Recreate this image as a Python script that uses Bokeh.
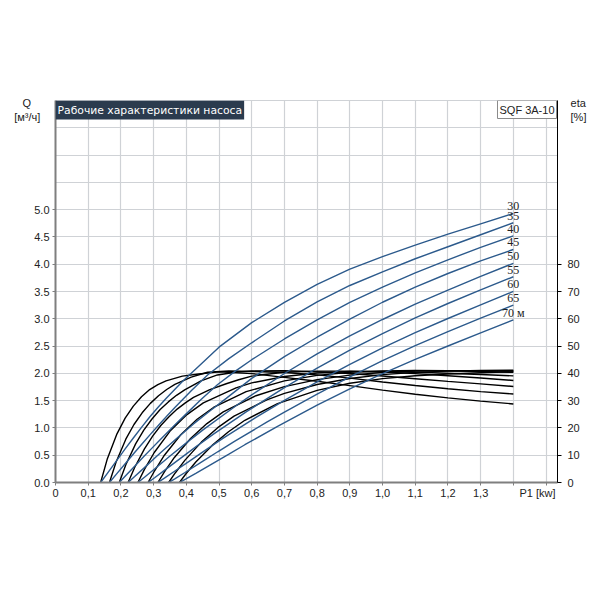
from bokeh.plotting import figure
from bokeh.models import (Range1d, LinearAxis, FixedTicker, Label, LabelSet,
                          ColumnDataSource, CustomJSTickFormatter)
from bokeh.embed import file_html
from bokeh.resources import INLINE

# ---------------- data ----------------
heads = ["30", "35", "40", "45", "50", "55", "60", "65", "70 м"]

p30 = [0.138, 0.158, 0.188, 0.213, 0.238, 0.263, 0.288, 0.313, 0.338, 0.388, 0.438, 0.5, 0.6, 0.7, 0.8, 0.9, 1.0, 1.1, 1.2, 1.3, 1.4]
q30 = [0, 0.164, 0.41, 0.615, 0.815, 1.01, 1.20, 1.375, 1.54, 1.85, 2.13, 2.48, 2.93, 3.30, 3.63, 3.91, 4.14, 4.35, 4.55, 4.74, 4.93]
e30 = [0, 8.49, 17.83, 23.6, 27.99, 31.4, 34.06, 35.9, 37.25, 38.98, 39.76, 40.55, 39.92, 38.54, 37.09, 35.52, 33.84, 32.33, 31.00, 29.81, 28.79]

p35 = [0.165, 0.185, 0.215, 0.24, 0.265, 0.29, 0.315, 0.34, 0.365, 0.415, 0.465, 0.53, 0.6, 0.7, 0.8, 0.9, 1.0, 1.1, 1.2, 1.3, 1.4]
q35 = [0, 0.144, 0.358, 0.535, 0.71, 0.882, 1.05, 1.215, 1.375, 1.68, 1.97, 2.27, 2.56, 2.96, 3.31, 3.61, 3.86, 4.10, 4.32, 4.54, 4.76]
e35 = [0, 7.42, 15.88, 21.26, 25.55, 29.0, 31.79, 34.08, 35.93, 38.61, 40.41, 40.85, 40.69, 40.33, 39.46, 38.26, 36.81, 35.55, 34.34, 33.31, 32.43]

p40 = [0.195, 0.215, 0.245, 0.27, 0.295, 0.32, 0.345, 0.37, 0.395, 0.445, 0.495, 0.55, 0.6, 0.7, 0.8, 0.9, 1.0, 1.1, 1.2, 1.3, 1.4]
q40 = [0, 0.128, 0.318, 0.475, 0.63, 0.785, 0.935, 1.085, 1.23, 1.52, 1.79, 2.04, 2.25, 2.63, 2.98, 3.30, 3.58, 3.84, 4.08, 4.31, 4.52]
e40 = [0, 6.49, 14.15, 19.18, 23.28, 26.74, 29.54, 31.96, 33.94, 37.23, 39.42, 40.43, 40.88, 40.95, 40.60, 39.97, 39.02, 38.05, 37.06, 36.14, 35.19]

p45 = [0.222, 0.242, 0.272, 0.297, 0.322, 0.347, 0.372, 0.397, 0.422, 0.472, 0.522, 0.56, 0.6, 0.7, 0.8, 0.9, 1.0, 1.1, 1.2, 1.3, 1.4]
q45 = [0, 0.1085, 0.2728, 0.411, 0.5488, 0.682, 0.816, 0.945, 1.0737, 1.31, 1.541, 1.72, 1.908, 2.306, 2.662, 2.994, 3.303, 3.58, 3.83, 4.06, 4.27]
e45 = [0, 5.5, 12.3, 16.97, 20.9, 24.10, 26.9, 29.19, 31.2, 34.03, 36.2, 37.66, 39.0, 40.4, 40.8, 40.8, 40.5, 39.91, 39.14, 38.30, 37.40]

p50 = [0.252, 0.272, 0.302, 0.352, 0.402, 0.452, 0.552, 0.6, 0.7, 0.8, 0.9, 1.0, 1.1, 1.2, 1.3, 1.4]
q50 = [0, 0.0958, 0.2438, 0.4934, 0.7347, 0.9687, 1.4058, 1.607, 1.997, 2.357, 2.687, 2.987, 3.267, 3.527, 3.777, 4.017]
e50 = [0, 4.8, 11.0, 19.1, 24.9, 29.2, 34.7, 36.49, 38.87, 40.14, 40.68, 40.70, 40.47, 40.05, 39.59, 39.09]

p55 = [0.283, 0.303, 0.333, 0.383, 0.433, 0.483, 0.583, 0.7, 0.8, 0.9, 1.0, 1.1, 1.2, 1.3, 1.4]
q55 = [0, 0.0869, 0.2222, 0.4472, 0.6703, 0.8862, 1.2953, 1.74, 2.095, 2.425, 2.73, 3.015, 3.28, 3.53, 3.77]
e55 = [0, 4.3, 10.0, 17.5, 23.2, 27.5, 33.3, 37.25, 39.25, 40.38, 40.92, 41.08, 40.97, 40.70, 40.36]

p60 = [0.313, 0.333, 0.363, 0.413, 0.463, 0.513, 0.613, 0.7, 0.8, 0.9, 1.0, 1.1, 1.2, 1.3, 1.4]
q60 = [0, 0.0794, 0.2020, 0.4067, 0.6117, 0.8127, 1.1923, 1.5055, 1.8455, 2.1655, 2.4655, 2.7455, 3.0055, 3.2555, 3.5005]
e60 = [0, 3.9, 9.1, 16.1, 21.6, 25.9, 31.8, 35.16, 37.72, 39.34, 40.31, 40.81, 40.95, 40.94, 40.88]

p65 = [0.346, 0.366, 0.396, 0.446, 0.496, 0.546, 0.646, 0.7, 0.8, 0.9, 1.0, 1.1, 1.2, 1.3, 1.4]
q65 = [0, 0.0723, 0.1833, 0.3727, 0.5629, 0.7491, 1.1051, 1.2914, 1.6214, 1.9364, 2.2314, 2.5064, 2.7664, 3.0114, 3.2514]
e65 = [0, 3.5, 8.2, 14.8, 20.1, 24.3, 30.3, 32.68, 35.90, 38.11, 39.52, 40.36, 40.83, 41.03, 41.14]

p70 = [0.379, 0.399, 0.429, 0.479, 0.529, 0.579, 0.679, 0.8, 0.9, 1.0, 1.1, 1.2, 1.3, 1.4]
q70 = [0, 0.0669, 0.1687, 0.3415, 0.5158, 0.6921, 1.0287, 1.416, 1.716, 1.996, 2.256, 2.501, 2.741, 2.981]
e70 = [0, 3.2, 7.5, 13.6, 18.6, 22.8, 28.9, 33.76, 36.37, 38.07, 39.12, 39.76, 40.22, 40.62]

# ticks and their labels
NB = "\u00a0"
x_ticks = [0, 0.1, 0.2, 0.3, 0.4, 0.5, 0.6, 0.7, 0.8, 0.9, 1.0, 1.1, 1.2, 1.3, 1.4, 1.5]
x_label_pos = [0, 0.1, 0.2, 0.3, 0.4, 0.5, 0.6, 0.7, 0.8, 0.9, 1.0, 1.1, 1.2, 1.3, 1.474]
x_labels = ["0", "0,1", "0,2", "0,3", "0,4", "0,5", "0,6", "0,7", "0,8", "0,9",
            "1,0", "1,1", "1,2", "1,3", "P1 [kw]"]
q_ticks = [0, 0.5, 1.0, 1.5, 2.0, 2.5, 3.0, 3.5, 4.0, 4.5, 5.0]
q_label_pos = [0, 0.5, 1.0, 1.5, 2.0, 2.5, 3.0, 3.5, 4.0, 4.5, 5.0, 6.70, 6.954]
q_labels = ["0.0", "0.5", "1.0", "1.5", "2.0", "2.5", "3.0", "3.5", "4.0", "4.5", "5.0",
            "[м³/ч]" + NB * 3, "Q" + NB * 6]
q_grid = [0.5, 1.0, 1.5, 2.0, 2.5, 3.0, 3.5, 4.0, 4.5, 5.0, 5.5, 6.0, 6.5, 7.0]
eta_ticks = [0, 10, 20, 30, 40, 50, 60, 70, 80]
eta_label_pos = [0, 10, 20, 30, 40, 50, 60, 70, 80, 133.9, 139.1]
eta_labels = ["0", "10", "20", "30", "40", "50", "60", "70", "80", NB + "[%]", NB + "eta"]

LOOKUP = """
for (let i = 0; i < v.length; i++) { if (Math.abs(tick - v[i]) < 1e-6) return l[i]; }
return "";
"""

# ---------------- figure ----------------
BLUE = "#2c5a8c"
GRID = "#cfd2d6"
TXT = "#222222"
AX = "#7f7f7f"

p = figure(width=592, height=592, output_backend="svg", toolbar_location=None,
           x_range=Range1d(0, 1.535), y_range=Range1d(0, 7.0))
p.min_border_left = 55
p.min_border_right = 35
p.min_border_top = 100
p.min_border_bottom = 110
p.background_fill_color = "white"
p.border_fill_color = "white"
p.outline_line_color = GRID
p.extra_y_ranges = {"eta": Range1d(0, 140)}

p.xgrid.ticker = FixedTicker(ticks=x_ticks)
p.ygrid.ticker = FixedTicker(ticks=q_grid)
p.xgrid.grid_line_color = GRID
p.ygrid.grid_line_color = GRID
p.xgrid.grid_line_width = 1.2
p.ygrid.grid_line_width = 1.2


def style_axis(ax, color, tick_len, standoff):
    ax.axis_line_color = color
    ax.major_tick_line_color = None
    ax.major_tick_out = 0
    ax.major_tick_in = 0
    ax.minor_tick_line_color = color
    ax.minor_tick_out = tick_len
    ax.minor_tick_in = 0
    ax.major_label_text_font = "Liberation Sans"
    ax.major_label_text_font_size = "11px"
    ax.major_label_text_color = TXT
    ax.major_label_standoff = standoff


# bottom axis
xa = p.xaxis[0]
xa.ticker = FixedTicker(ticks=x_label_pos, minor_ticks=x_ticks)
xa.formatter = CustomJSTickFormatter(args=dict(v=x_label_pos, l=x_labels), code=LOOKUP)
style_axis(xa, AX, 3, 1)
xa.axis_line_width = 2

# left axis
ya = p.yaxis[0]
ya.ticker = FixedTicker(ticks=q_label_pos, minor_ticks=q_ticks)
ya.formatter = CustomJSTickFormatter(args=dict(v=q_label_pos, l=q_labels), code=LOOKUP)
style_axis(ya, AX, 3, 3)
ya.axis_line_width = 2

# right axis (eta)
ra = LinearAxis(y_range_name="eta",
                ticker=FixedTicker(ticks=eta_label_pos, minor_ticks=eta_ticks),
                formatter=CustomJSTickFormatter(args=dict(v=eta_label_pos, l=eta_labels),
                                                code=LOOKUP))
style_axis(ra, "black", 4, 6)
ra.axis_line_width = 1
p.add_layout(ra, "right")

# curves
P_LIST = [p30, p35, p40, p45, p50, p55, p60, p65, p70]
Q_LIST = [q30, q35, q40, q45, q50, q55, q60, q65, q70]
E_LIST = [e30, e35, e40, e45, e50, e55, e60, e65, e70]

for px, ex in zip(P_LIST, E_LIST):
    p.line(px, ex, y_range_name="eta", line_color="black", line_width=1.4)
for px, qx in zip(P_LIST, Q_LIST):
    p.line(px, qx, line_color=BLUE, line_width=1.4)

# curve labels at the ends of the blue curves
lab_src = ColumnDataSource(dict(x=[px[-1] for px in P_LIST],
                                y=[qx[-1] for qx in Q_LIST],
                                t=heads))
p.add_layout(LabelSet(x="x", y="y", text="t", source=lab_src, y_offset=7,
                      text_align="center", text_baseline="middle",
                      text_font="Liberation Sans", text_font_size="12px",
                      text_color=TXT))

# title box
p.add_layout(Label(x=0, y=7.0, text="Рабочие характеристики насоса",
                   anchor="top_left", padding=(2, 3),
                   text_font="DejaVu Sans", text_font_size="10.8px", text_color="white",
                   background_fill_color="#2b3b4e", text_baseline="top"))

# model box
p.add_layout(Label(x=1.532, y=7.0, text="SQF 3A-10", anchor="top_right", padding=(2, 3),
                   text_font="Liberation Sans", text_font_size="11px", text_color=TXT,
                   background_fill_color="white", border_line_color="#8a8a8a",
                   text_baseline="top"))

open("out.html", "w").write(file_html(p, INLINE))
